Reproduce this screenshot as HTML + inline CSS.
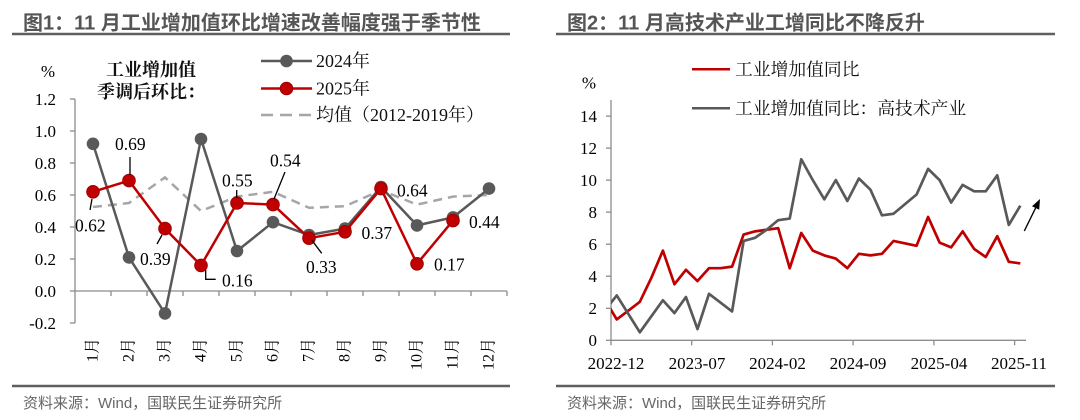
<!DOCTYPE html>
<html>
<head>
<meta charset="utf-8">
<style>
html,body{margin:0;padding:0;background:#fff;}
svg{display:block;}
.ttl{font-family:"Liberation Sans","Noto Sans CJK SC",sans-serif;font-weight:700;font-size:20px;fill:#555;}
.src{font-family:"Liberation Sans","Noto Sans CJK SC",sans-serif;font-size:15px;fill:#666;}
.num{font-family:"Liberation Serif","Noto Serif CJK SC",serif;font-size:17px;fill:#000;}
.lbl{font-family:"Liberation Serif","Noto Serif CJK SC",serif;font-size:17.5px;fill:#000;}
.leg{font-family:"Liberation Serif","Noto Serif CJK SC",serif;font-size:18px;fill:#111;}
.mon{font-family:"Liberation Serif","Noto Serif CJK SC",serif;font-size:16px;fill:#000;}
.ann{font-family:"Liberation Serif","Noto Serif CJK SC",serif;font-size:18px;font-weight:700;fill:#111;}
</style>
</head>
<body>
<svg width="1080" height="420" viewBox="0 0 1080 420" xmlns="http://www.w3.org/2000/svg">
<rect width="1080" height="420" fill="#fff"/>
<defs>
<clipPath id="rc"><rect x="611" y="90" width="420" height="260"/></clipPath>
</defs>

<!-- ============ LEFT PANEL ============ -->
<text class="ttl" x="23" y="29.5">图1：11 月工业增加值环比增速改善幅度强于季节性</text>
<line x1="12" y1="34" x2="510" y2="34" stroke="#5f5f5f" stroke-width="2.5"/>
<line x1="12" y1="386" x2="510" y2="386" stroke="#5f5f5f" stroke-width="2.5"/>
<text class="src" x="23" y="408">资料来源：Wind，国联民生证券研究所</text>

<!-- axes -->
<g stroke="#8c8c8c" stroke-width="1.3" fill="none">
<line x1="75" y1="99" x2="75" y2="323"/>
<line x1="75" y1="291" x2="507" y2="291"/>
<line x1="70" y1="99" x2="75" y2="99"/>
<line x1="70" y1="131" x2="75" y2="131"/>
<line x1="70" y1="163" x2="75" y2="163"/>
<line x1="70" y1="195" x2="75" y2="195"/>
<line x1="70" y1="227" x2="75" y2="227"/>
<line x1="70" y1="259" x2="75" y2="259"/>
<line x1="70" y1="291" x2="75" y2="291"/>
<line x1="70" y1="323" x2="75" y2="323"/>
<line x1="111" y1="291" x2="111" y2="296"/>
<line x1="147" y1="291" x2="147" y2="296"/>
<line x1="183" y1="291" x2="183" y2="296"/>
<line x1="219" y1="291" x2="219" y2="296"/>
<line x1="255" y1="291" x2="255" y2="296"/>
<line x1="291" y1="291" x2="291" y2="296"/>
<line x1="327" y1="291" x2="327" y2="296"/>
<line x1="363" y1="291" x2="363" y2="296"/>
<line x1="399" y1="291" x2="399" y2="296"/>
<line x1="435" y1="291" x2="435" y2="296"/>
<line x1="471" y1="291" x2="471" y2="296"/>
<line x1="507" y1="291" x2="507" y2="296"/>
</g>

<!-- y tick labels -->
<g class="num" text-anchor="end">
<text x="56" y="105">1.2</text>
<text x="56" y="137">1.0</text>
<text x="56" y="169">0.8</text>
<text x="56" y="201">0.6</text>
<text x="56" y="233">0.4</text>
<text x="56" y="265">0.2</text>
<text x="56" y="297">0.0</text>
<text x="56" y="329">-0.2</text>
</g>
<text class="num" x="48" y="77" text-anchor="middle">%</text>

<!-- month labels -->
<g class="mon" text-anchor="end" dominant-baseline="central">
<text transform="translate(93,338) rotate(-90)">1月</text>
<text transform="translate(129,338) rotate(-90)">2月</text>
<text transform="translate(165,338) rotate(-90)">3月</text>
<text transform="translate(201,338) rotate(-90)">4月</text>
<text transform="translate(237,338) rotate(-90)">5月</text>
<text transform="translate(273,338) rotate(-90)">6月</text>
<text transform="translate(309,338) rotate(-90)">7月</text>
<text transform="translate(345,338) rotate(-90)">8月</text>
<text transform="translate(381,338) rotate(-90)">9月</text>
<text transform="translate(417,338) rotate(-90)">10月</text>
<text transform="translate(453,338) rotate(-90)">11月</text>
<text transform="translate(489,338) rotate(-90)">12月</text>
</g>

<!-- annotation -->
<text class="ann" x="151" y="76" text-anchor="middle">工业增加值</text>
<text class="ann" x="151" y="98" text-anchor="middle">季调后环比：</text>

<!-- legend -->
<line x1="261" y1="61" x2="312" y2="61" stroke="#595959" stroke-width="2.5"/>
<circle cx="286.5" cy="61" r="6.3" fill="#595959"/>
<text class="leg" x="316" y="67">2024年</text>
<line x1="261" y1="88.5" x2="312" y2="88.5" stroke="#C00000" stroke-width="2.5"/>
<circle cx="286.5" cy="88.5" r="6.3" fill="#C00000" stroke="#a00000" stroke-width="1"/>
<text class="leg" x="316" y="94.5">2025年</text>
<line x1="261" y1="115" x2="312" y2="115" stroke="#A6A6A6" stroke-width="2.5" stroke-dasharray="12 7"/>
<text class="leg" x="316" y="121">均值（2012-2019年）</text>

<!-- average dashed -->
<polyline fill="none" stroke="#A6A6A6" stroke-width="2.5" stroke-dasharray="9 6"
 points="93,207 129,203 165,177.4 201,211 237,196.6 273,191.8 309,207.8 345,206.2 381,190.2 417,204.6 453,196.6 489,195"/>

<!-- 2024 gray -->
<polyline fill="none" stroke="#595959" stroke-width="2.5" stroke-linejoin="round"
 points="93,143.8 129,257.4 165,313.4 201,139 237,251 273,222.2 309,235 345,228.6 381,187 417,225.4 453,217.4 489,188.6"/>
<g fill="#595959">
<circle cx="93" cy="143.8" r="6.3"/><circle cx="129" cy="257.4" r="6.3"/><circle cx="165" cy="313.4" r="6.3"/>
<circle cx="201" cy="139" r="6.3"/><circle cx="237" cy="251" r="6.3"/><circle cx="273" cy="222.2" r="6.3"/>
<circle cx="309" cy="235" r="6.3"/><circle cx="345" cy="228.6" r="6.3"/><circle cx="381" cy="187" r="6.3"/>
<circle cx="417" cy="225.4" r="6.3"/><circle cx="453" cy="217.4" r="6.3"/><circle cx="489" cy="188.6" r="6.3"/>
</g>

<!-- 2025 red -->
<polyline fill="none" stroke="#C00000" stroke-width="2.5" stroke-linejoin="round"
 points="93,191.8 129,180.6 165,228.6 201,265.4 237,203 273,204.6 309,238.2 345,231.8 381,188.6 417,263.8 453,220.6"/>
<g fill="#C00000" stroke="#a00000" stroke-width="1">
<circle cx="93" cy="191.8" r="6.3"/><circle cx="129" cy="180.6" r="6.3"/><circle cx="165" cy="228.6" r="6.3"/>
<circle cx="201" cy="265.4" r="6.3"/><circle cx="237" cy="203" r="6.3"/><circle cx="273" cy="204.6" r="6.3"/>
<circle cx="309" cy="238.2" r="6.3"/><circle cx="345" cy="231.8" r="6.3"/><circle cx="381" cy="188.6" r="6.3"/>
<circle cx="417" cy="263.8" r="6.3"/><circle cx="453" cy="220.6" r="6.3"/>
</g>

<!-- leader lines -->
<g stroke="#000" stroke-width="1.3" fill="none">
<line x1="130" y1="157" x2="130" y2="175"/>
<line x1="92" y1="199" x2="90" y2="210"/>
<line x1="157" y1="244" x2="162" y2="235"/>
<polyline points="205.7,270 205.7,279.3 215.7,279.3"/>
<line x1="236.7" y1="190" x2="236.7" y2="198"/>
<line x1="274" y1="199" x2="285" y2="172"/>
<line x1="311.7" y1="240" x2="321.7" y2="253.3"/>
</g>

<!-- data labels -->
<g class="lbl">
<text x="115" y="150">0.69</text>
<text x="75" y="231.5">0.62</text>
<text x="140" y="265">0.39</text>
<text x="222" y="286.5">0.16</text>
<text x="222" y="186.5">0.55</text>
<text x="270" y="166.5">0.54</text>
<text x="306" y="273">0.33</text>
<text x="361.5" y="239">0.37</text>
<text x="397" y="196.5">0.64</text>
<text x="434" y="270.5">0.17</text>
<text x="469" y="228">0.44</text>
</g>

<!-- ============ RIGHT PANEL ============ -->
<text class="ttl" x="567" y="29.5">图2：11 月高技术产业工增同比不降反升</text>
<line x1="556" y1="34" x2="1055" y2="34" stroke="#5f5f5f" stroke-width="2.5"/>
<line x1="556" y1="386" x2="1055" y2="386" stroke="#5f5f5f" stroke-width="2.5"/>
<text class="src" x="567" y="408">资料来源：Wind，国联民生证券研究所</text>

<g stroke="#8c8c8c" stroke-width="1.3" fill="none">
<line x1="611" y1="100" x2="611" y2="340.3"/>
<line x1="611" y1="340.3" x2="1026" y2="340.3"/>
<line x1="606" y1="116.1" x2="611" y2="116.1"/>
<line x1="606" y1="148.1" x2="611" y2="148.1"/>
<line x1="606" y1="180.1" x2="611" y2="180.1"/>
<line x1="606" y1="212.1" x2="611" y2="212.1"/>
<line x1="606" y1="244.2" x2="611" y2="244.2"/>
<line x1="606" y1="276.2" x2="611" y2="276.2"/>
<line x1="606" y1="308.3" x2="611" y2="308.3"/>
<line x1="606" y1="340.3" x2="611" y2="340.3"/>
<line x1="611" y1="340.3" x2="611" y2="345.3"/>
<line x1="691.7" y1="340.3" x2="691.7" y2="345.3"/>
<line x1="772.4" y1="340.3" x2="772.4" y2="345.3"/>
<line x1="853.1" y1="340.3" x2="853.1" y2="345.3"/>
<line x1="933.9" y1="340.3" x2="933.9" y2="345.3"/>
<line x1="1014.6" y1="340.3" x2="1014.6" y2="345.3"/>
</g>

<g class="num" text-anchor="end">
<text x="597" y="122">14</text>
<text x="597" y="154">12</text>
<text x="597" y="186">10</text>
<text x="597" y="218">8</text>
<text x="597" y="250">6</text>
<text x="597" y="282">4</text>
<text x="597" y="314">2</text>
<text x="597" y="346">0</text>
</g>
<text class="num" x="589" y="88.5" text-anchor="middle">%</text>

<g class="num" text-anchor="middle">
<text x="616" y="369">2022-12</text>
<text x="697" y="369">2023-07</text>
<text x="777.5" y="369">2024-02</text>
<text x="858" y="369">2024-09</text>
<text x="939" y="369">2025-04</text>
<text x="1019" y="369">2025-11</text>
</g>

<!-- legend -->
<line x1="692" y1="69.3" x2="730" y2="69.3" stroke="#C00000" stroke-width="2.5"/>
<text class="leg" style="font-size:17.8px" x="735" y="75.7">工业增加值同比</text>
<line x1="692" y1="108.3" x2="730" y2="108.3" stroke="#595959" stroke-width="2.5"/>
<text class="leg" style="font-size:17.8px" x="735" y="114.3">工业增加值同比：高技术产业</text>

<g clip-path="url(#rc)" fill="none" stroke-width="2.7" stroke-linejoin="round">
<polyline stroke="#C00000" points="605.24,300.25 616.77,319.47 639.83,301.85 651.36,277.82 662.89,250.59 674.42,284.23 685.95,269.81 697.48,281.03 709.01,268.21 720.54,268.21 732.07,266.61 743.6,234.57 755.13,231.36 778.19,228.16 789.72,268.21 801.25,232.97 812.78,250.59 824.31,255.39 835.84,258.6 847.37,268.21 858.9,253.79 870.43,255.39 881.96,253.79 893.49,240.98 916.55,245.78 928.08,216.95 939.61,242.58 951.14,247.38 962.67,231.36 974.2,248.99 985.73,257.0 997.26,236.17 1008.79,261.8 1020.32,263.4"/>
<polyline stroke="#595959" points="605.24,309.86 616.77,295.44 639.83,332.29 662.89,300.25 674.42,313.07 685.95,297.05 697.48,329.09 709.01,293.84 732.07,311.46 743.6,240.98 755.13,237.77 766.66,229.76 778.19,220.15 789.72,218.55 801.25,159.27 812.78,180.1 824.31,199.32 835.84,180.1 847.37,200.93 858.9,178.5 870.43,189.71 881.96,215.34 893.49,213.74 905.02,204.13 916.55,194.52 928.08,168.89 939.61,180.1 951.14,202.53 962.67,184.91 974.2,191.31 985.73,191.31 997.26,175.29 1008.79,224.96 1020.32,205.73"/>
</g>

<!-- arrow -->
<line x1="1024.3" y1="231" x2="1035.6" y2="208" stroke="#000" stroke-width="1.4"/>
<polygon points="1040,199 1039.2,209.8 1032,206.2" fill="#000"/>

</svg>
</body>
</html>
